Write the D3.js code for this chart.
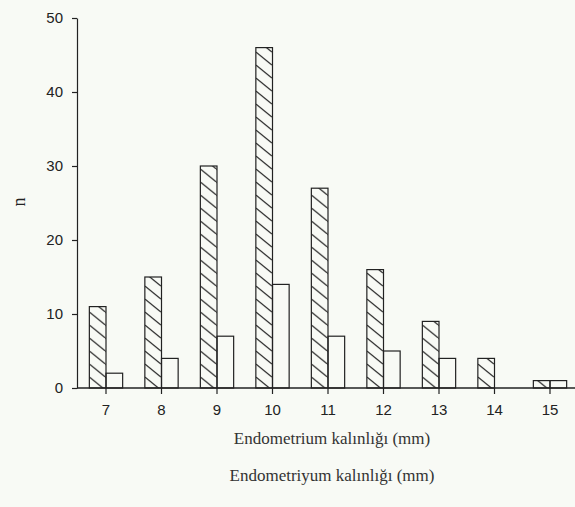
<!DOCTYPE html>
<html>
<head>
<meta charset="utf-8">
<script src="https://cdn.jsdelivr.net/npm/d3@7"></script>
<style>
  html, body { margin: 0; padding: 0; background: #f8faf5; }
  svg { display: block; }
</style>
</head>
<body>
<svg id="chart" width="575" height="507"></svg>
<script>
const categories = ["7", "8", "9", "10", "11", "12", "13", "14", "15"];
const series = ["hatched", "open"];
const hatchedValues = [11, 15, 30, 46, 27, 16, 9, 4, 1];
const openValues = [2, 4, 7, 14, 7, 5, 4, 0, 1];
const yTicks = [0, 10, 20, 30, 40, 50];
const xTitle1 = "Endometrium kalınlığı (mm)";
const xTitle2 = "Endometriyum kalınlığı (mm)";
const yTitle = "n";

const svg = d3.select("#chart");
const ink = "#222";

const defs = svg.append("defs");
const pat = defs.append("pattern")
  .attr("id", "hatch").attr("patternUnits", "userSpaceOnUse")
  .attr("width", 16).attr("height", 13);
[[0, 16], [-16, 0], [16, 32]].forEach(([a, b]) => {
  pat.append("line").attr("x1", a).attr("y1", 0).attr("x2", b).attr("y2", 13)
    .attr("stroke", ink).attr("stroke-width", 1.2);
});

const y = d3.scaleLinear().domain([0, 50]).range([388, 18]);
const x = d3.scaleBand().domain(categories).range([78.25, 577.75])
  .paddingInner(0.4).paddingOuter(0.2);
const xs = d3.scaleBand().domain(series).range([0, x.bandwidth()]);

const data = categories.map((c, i) => ({ c, vals: [hatchedValues[i], openValues[i]] }));

const g = svg.append("g");
const groups = g.selectAll("g.cat").data(data).join("g")
  .attr("transform", d => `translate(${x(d.c)},0)`);
groups.selectAll("rect").data(d => d.vals.map((v, j) => ({ v, s: series[j] })))
  .join("rect")
  .filter(d => d.v > 0)
  .attr("x", d => xs(d.s))
  .attr("width", xs.bandwidth())
  .attr("y", d => y(d.v))
  .attr("height", d => y(0) - y(d.v))
  .attr("fill", d => d.s === "hatched" ? "url(#hatch)" : "none")
  .attr("stroke", ink).attr("stroke-width", 1.2);

// Y axis
const yAxis = d3.axisLeft(y).tickValues(yTicks).tickSize(5).tickSizeOuter(0).tickPadding(9);
const ya = svg.append("g").attr("transform", "translate(77,0)").call(yAxis);
ya.select(".domain").attr("stroke", ink).attr("stroke-width", 1.2);
ya.selectAll(".tick line").attr("stroke", ink).attr("stroke-width", 1.2);
ya.selectAll("text").attr("font-family", "Liberation Sans, Arial, sans-serif")
  .attr("font-size", 15).attr("fill", "#222");

// X axis
const xAxis = d3.axisBottom(x).tickSize(6).tickSizeOuter(0).tickPadding(10);
const xa = svg.append("g").attr("transform", "translate(0,388)").call(xAxis);
xa.select(".domain").remove();
xa.append("line").attr("x1", 77).attr("x2", 575).attr("y1", 0).attr("y2", 0)
  .attr("stroke", ink).attr("stroke-width", 1.4);
xa.selectAll(".tick line").attr("stroke", ink).attr("stroke-width", 1.2);
xa.selectAll("text").attr("font-family", "Liberation Sans, Arial, sans-serif")
  .attr("font-size", 15).attr("fill", "#222");

svg.append("text").attr("x", 332).attr("y", 444).attr("text-anchor", "middle")
  .attr("font-family", "Liberation Serif, Times New Roman, serif").attr("font-size", 17)
  .attr("fill", "#333").text(xTitle1);
svg.append("text").attr("x", 332).attr("y", 481).attr("text-anchor", "middle")
  .attr("font-family", "Liberation Serif, Times New Roman, serif").attr("font-size", 17)
  .attr("fill", "#333").text(xTitle2);
svg.append("text").attr("transform", "translate(25,202) rotate(-90)").attr("text-anchor", "middle")
  .attr("font-family", "Liberation Serif, Times New Roman, serif").attr("font-size", 18)
  .attr("fill", "#222").text(yTitle);
</script>
</body>
</html>
